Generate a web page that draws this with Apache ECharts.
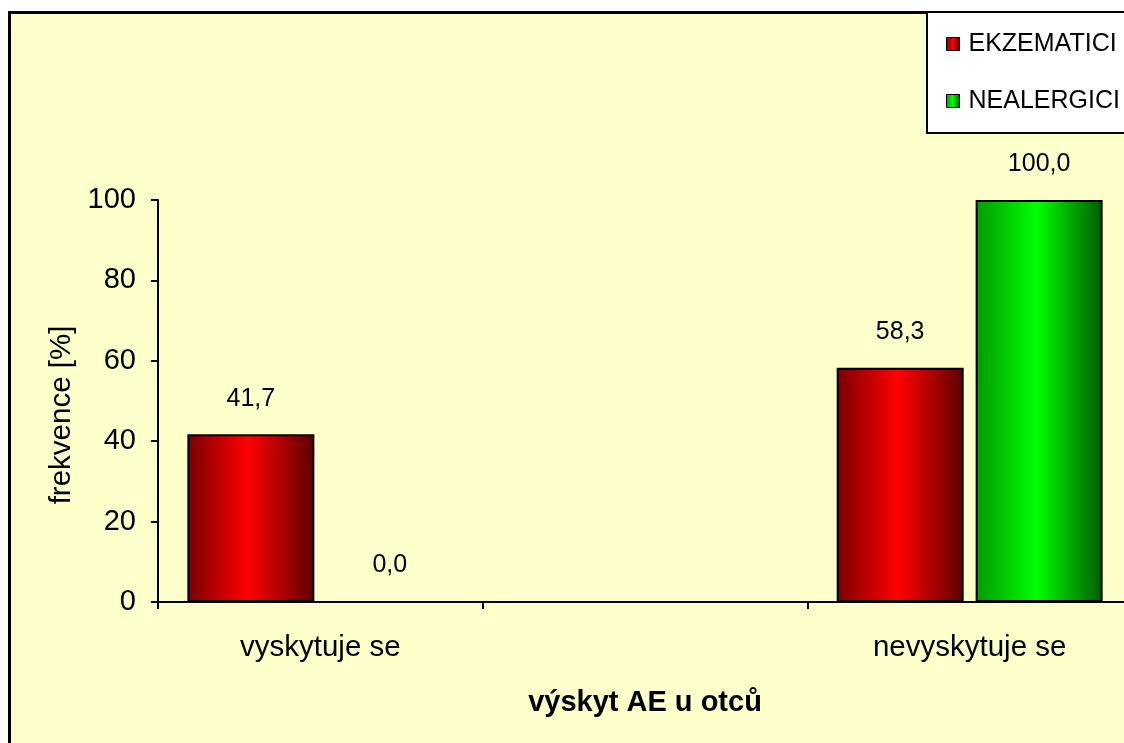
<!DOCTYPE html>
<html>
<head>
<meta charset="utf-8">
<script src="https://cdn.jsdelivr.net/npm/echarts@6/dist/echarts.min.js"></script>
<style>
  html, body { margin: 0; padding: 0; background: #ffffff; }
  #chart { width: 1124px; height: 743px; }
</style>
</head>
<body>
<div id="chart"></div>
<script>
// Categories (the middle slot is an empty spacer category)
const categories = ['vyskytuje se', '', 'nevyskytuje se'];
const seriesNames = ['EKZEMATICI', 'NEALERGICI'];
const ekzematici = [41.7, null, 58.3];
const nealergici = [0.0, null, 100.0];
const yTicks = { min: 0, max: 100, interval: 20 };

const FONT = "'Liberation Sans', Arial, sans-serif";

function barGradient(edgeL, mid, edgeR) {
  return new echarts.graphic.LinearGradient(0, 0, 1, 0, [
    { offset: 0, color: edgeL },
    { offset: 0.48, color: mid },
    { offset: 1, color: edgeR }
  ]);
}
const redFill = barGradient('#7a0000', '#ff0000', '#5c0000');
const greenFill = barGradient('#009a00', '#00ff00', '#005c00');

const fmt = v => v.value == null ? '' : Number(v.value).toFixed(1).replace('.', ',');

const labelCfg = {
  show: true,
  position: 'top',
  distance: 23,
  formatter: fmt,
  fontFamily: FONT,
  fontSize: 25,
  color: '#000'
};

const chart = echarts.init(document.getElementById('chart'), null, { renderer: 'canvas' });
chart.setOption({
  animation: false,
  backgroundColor: '#ffffff',
  textStyle: { fontFamily: FONT, color: '#000' },
  graphic: [{
    type: 'rect',
    z: -10,
    silent: true,
    shape: { x: 9.5, y: 12.5, width: 1300, height: 900 },
    style: { fill: '#FFFFCC', stroke: '#000', lineWidth: 3 }
  }],
  legend: {
    orient: 'vertical',
    left: 927,
    top: 12,
    padding: [19, 60, 19, 19],
    itemGap: 31,
    itemWidth: 13,
    itemHeight: 13,
    backgroundColor: '#ffffff',
    borderColor: '#000',
    borderWidth: 2,
    borderRadius: 0,
    icon: 'rect',
    itemStyle: { borderColor: '#000', borderWidth: 1 },
    textStyle: { fontFamily: FONT, fontSize: 25, color: '#000', lineHeight: 26, padding: [0, 0, 0, 4] },
    data: seriesNames
  },
  grid: {
    left: 158, top: 200, width: 974, bottom: 141,
    containLabel: false,
    outerBoundsMode: 'none'
  },
  xAxis: {
    type: 'category',
    data: categories,
    boundaryGap: true,
    name: 'výskyt AE u otců',
    nameLocation: 'middle',
    nameGap: 86,
    nameTextStyle: { fontFamily: FONT, fontSize: 29, fontWeight: 'bold', color: '#000' },
    axisLine: { lineStyle: { color: '#000', width: 2 } },
    axisTick: { show: true, length: 7, lineStyle: { color: '#000', width: 2 } },
    axisLabel: { fontFamily: FONT, fontSize: 29.5, color: '#000', margin: 31 },
    splitLine: { show: false }
  },
  yAxis: {
    type: 'value',
    min: yTicks.min,
    max: yTicks.max,
    interval: yTicks.interval,
    name: 'frekvence [%]',
    nameLocation: 'middle',
    nameGap: 78,
    nameRotate: 90,
    nameTextStyle: { fontFamily: FONT, fontSize: 29.5, color: '#000', padding: [0, 0, 0, -28] },
    axisLine: { show: true, lineStyle: { color: '#000', width: 2 } },
    axisTick: { show: true, length: 7, lineStyle: { color: '#000', width: 2 } },
    axisLabel: { fontFamily: FONT, fontSize: 29, color: '#000', margin: 22 },
    splitLine: { show: false }
  },
  series: [
    {
      name: seriesNames[0],
      type: 'bar',
      data: ekzematici,
      barWidth: 127,
      barGap: '9.4%',
      itemStyle: { color: redFill, borderColor: '#000', borderWidth: 2 },
      label: labelCfg
    },
    {
      name: seriesNames[1],
      type: 'bar',
      data: nealergici,
      barWidth: 127,
      barGap: '9.4%',
      itemStyle: { color: greenFill, borderColor: '#000', borderWidth: 2 },
      label: labelCfg
    }
  ]
});
</script>
</body>
</html>
